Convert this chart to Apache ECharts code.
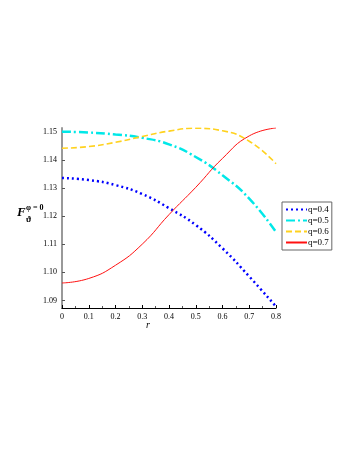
<!DOCTYPE html>
<html>
<head>
    <meta charset="utf-8">
    <title>F vs r</title>
    <script src="https://cdn.jsdelivr.net/npm/echarts@6/dist/echarts.min.js"></script>
    <style>
        html, body { margin: 0; padding: 0; background: #fff; }
        #chart1 { width: 354px; height: 458px; }
    </style>
</head>
<body>
    <div id="chart1"></div>
    <script type="text/javascript">
        // data
        var rValues = [0, 0.1, 0.2, 0.3, 0.4, 0.5, 0.6, 0.7, 0.8];
        var q04 = [1.1335, 1.1328, 1.1310, 1.1278, 1.1228, 1.1168, 1.1085, 1.0985, 1.0878];
        var q05 = [1.1500, 1.1497, 1.1490, 1.1478, 1.1455, 1.1410, 1.1345, 1.1262, 1.1143];
        var q06 = [1.1441, 1.1447, 1.1462, 1.1483, 1.1502, 1.1512, 1.1503, 1.1466, 1.1386];
        var q07 = [1.0962, 1.0978, 1.1025, 1.1100, 1.1205, 1.1302, 1.1405, 1.1485, 1.1513];
        var xTicks = [0, 0.1, 0.2, 0.3, 0.4, 0.5, 0.6, 0.7, 0.8];
        var yTicks = [1.09, 1.10, 1.11, 1.12, 1.13, 1.14, 1.15];
        var seriesNames = ['q=0.4', 'q=0.5', 'q=0.6', 'q=0.7'];

        function pairs(ys) {
            return rValues.map(function (r, i) { return [r, ys[i]]; });
        }

        var serif = '"Liberation Serif", "DejaVu Serif", serif';
        var myChart = echarts.init(document.getElementById('chart1'));

        var option = {
            animation: false,
            backgroundColor: '#fff',
            grid: { left: 62, right: 78, top: 128, bottom: 150 },
            legend: {
                orient: 'vertical',
                left: 282, top: 202,
                data: seriesNames,
                itemWidth: 21, itemHeight: 8, itemGap: 2,
                padding: [3, 3, 3, 3],
                borderColor: '#666', borderWidth: 1,
                itemStyle: { opacity: 0 },
                textStyle: { fontFamily: serif, fontSize: 9, color: '#000', padding: [0, 0, 0, -4] }
            },
            xAxis: {
                type: 'value', min: 0, max: 0.8, interval: 0.1,
                axisLine: { lineStyle: { color: '#000', width: 1 } },
                axisTick: { show: true, length: 3, inside: true, lineStyle: { color: '#000' }, customValues: xTicks },
                minorTick: { show: true, splitNumber: 2, length: 2, lineStyle: { color: '#555' } },
                splitLine: { show: false },
                axisLabel: {
                    fontFamily: serif, fontSize: 8, color: '#000', margin: 5,
                    customValues: xTicks,
                    formatter: function (v) { return v === 0 ? '0' : v.toFixed(1); }
                }
            },
            yAxis: {
                type: 'value', min: 1.0873, max: 1.1513,
                axisLine: { show: true, lineStyle: { color: '#999', width: 2 } },
                axisTick: { show: true, length: 3, inside: true, lineStyle: { color: '#555' }, customValues: yTicks },
                splitLine: { show: false },
                axisLabel: {
                    fontFamily: serif, fontSize: 8, color: '#000', margin: 5,
                    customValues: yTicks,
                    formatter: function (v) { return v.toFixed(2); }
                }
            },
            series: [
                {
                    name: seriesNames[0], type: 'line', smooth: true, symbol: 'none',
                    data: pairs(q04), color: '#0000ff',
                    lineStyle: { color: '#0000ff', width: 2.5, type: [2, 3] }
                },
                {
                    name: seriesNames[1], type: 'line', smooth: true, symbol: 'none',
                    data: pairs(q05), color: '#00e8e8',
                    lineStyle: { color: '#00e8e8', width: 2.5, type: [9, 3, 2, 3] }
                },
                {
                    name: seriesNames[2], type: 'line', smooth: true, symbol: 'none',
                    data: pairs(q06), color: '#ffd21f',
                    lineStyle: { color: '#ffd21f', width: 1.6, type: [6, 3] }
                },
                {
                    name: seriesNames[3], type: 'line', smooth: true, symbol: 'none',
                    data: pairs(q07), color: '#ff1010',
                    lineStyle: { color: '#ff1010', width: 1 }
                }
            ],
            graphic: [
                { type: 'text', left: 17, top: 206, style: { text: 'F', font: 'bold italic 13px ' + serif, fill: '#000' } },
                { type: 'text', left: 26, top: 204, style: { text: 'φ = 0', font: 'bold 8px ' + serif, fill: '#000' } },
                { type: 'text', left: 26, top: 215, style: { text: 'ϑ', font: 'bold 9px ' + serif, fill: '#000' } },
                { type: 'text', left: 146, top: 320, style: { text: 'r', font: 'italic 10px ' + serif, fill: '#000' } }
            ]
        };

        myChart.setOption(option);
    </script>
</body>
</html>
